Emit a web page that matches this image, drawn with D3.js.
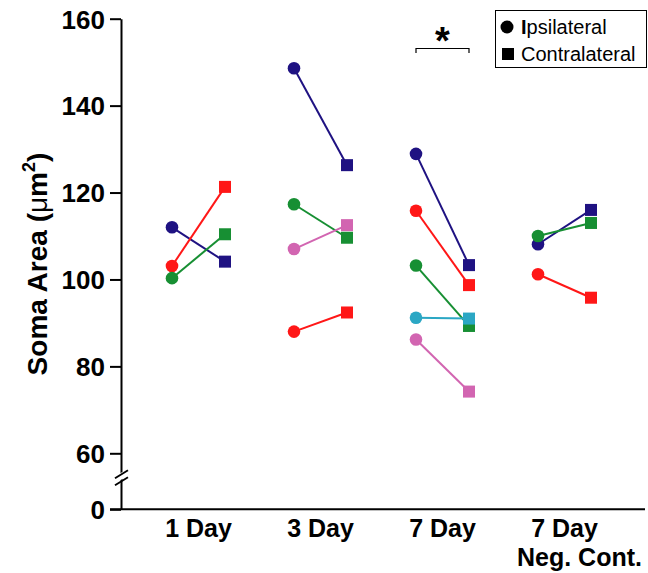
<!DOCTYPE html>
<html>
<head>
<meta charset="utf-8">
<script src="https://cdn.jsdelivr.net/npm/d3@7"></script>
<style>
  body { margin: 0; background: #fff; }
  text { font-family: Arial, "Liberation Sans", Helvetica, sans-serif; }
</style>
</head>
<body>
<div id="chart"></div>
<script>
// categories along x, each has an ipsilateral (circle) and contralateral (square) value
const categories = ["1 Day", "3 Day", "7 Day", "7 Day|Neg. Cont."];
const sides = ["Ipsilateral", "Contralateral"];
const yTicks = [0, 60, 80, 100, 120, 140, 160];

// one array per animal colour, [ipsi, contra] per category (null = no animal)
const navySeries  = [[112.0, 104.1], [148.6, 126.3], [128.9, 103.3], [108.1, 116.0]];
const redSeries   = [[103.1, 121.3], [88.0, 92.4],   [115.8, 98.7],  [101.2, 95.8]];
const greenSeries = [[100.3, 110.4], [117.3, 109.6], [103.2, 89.3],  [110.0, 113.0]];
const pinkSeries  = [null,           [107.0, 112.5], [86.2, 74.2],   null];
const cyanSeries  = [null,           null,           [91.2, 91.0],   null];

const seriesList = [
	{name: "navy",  values: navySeries,  color: "#1f1282"},
	{name: "red",   values: redSeries,   color: "#ff1717"},
	{name: "green", values: greenSeries, color: "#178f33"},
	{name: "pink",  values: pinkSeries,  color: "#d265b1"},
	{name: "cyan",  values: cyanSeries,  color: "#2ba7c4"}
];

let width = 648, height = 573;
let svg = d3.select("#chart").append("svg")
			.attr("width", width)
			.attr("height", height);

// broken y axis: 0 sits at the baseline, 60..160 linear above the break
let y = d3.scaleLinear().domain([0, 60, 160]).range([509.3, 453.3, 18.7]);
let x = d3.scalePoint().domain(categories).range([198.5, 564.5]);
let side = d3.scalePoint().domain(sides).range([-26.5, 26.5]);

let axisX0 = 121;

// y axis
let yAxis = svg.append("g")
			.attr("transform", "translate(" + axisX0 + ",0)")
			.call(d3.axisLeft(y).tickValues(yTicks).tickSize(11).tickSizeOuter(0).tickPadding(5));
yAxis.select(".domain").attr("stroke", "#000").attr("stroke-width", 2);
yAxis.selectAll(".tick line").attr("stroke", "#000").attr("stroke-width", 2);
yAxis.selectAll(".tick text")
	.attr("fill", "#000")
	.style("font-size", "26px")
	.style("font-weight", "bold")
	.attr("dy", "0.36em");

// axis break marks
let yBreak = (y(0) + y(60)) / 2 - 4;
svg.append("polygon")
	.attr("points", [[axisX0 - 3, yBreak + 4], [axisX0 + 3, yBreak + 1], [axisX0 + 3, yBreak - 6], [axisX0 - 3, yBreak - 3]].map(p => p.join(",")).join(" "))
	.attr("fill", "#fff");
svg.selectAll("line.brk").data([4, -3]).enter().append("line")
	.attr("class", "brk")
	.attr("x1", axisX0 - 6).attr("y1", d => yBreak + d + 4)
	.attr("x2", axisX0 + 7).attr("y2", d => yBreak + d - 4)
	.attr("stroke", "#000").attr("stroke-width", 1.8);

// x axis baseline (no ticks)
svg.append("line")
	.attr("x1", 110).attr("x2", 645)
	.attr("y1", y(0)).attr("y2", y(0))
	.attr("stroke", "#000").attr("stroke-width", 2);

// category labels
let catLabels = svg.append("g").selectAll("text").data(categories).enter().append("text")
	.attr("x", d => x(d))
	.attr("y", 537)
	.attr("text-anchor", "middle")
	.style("font-size", "25px")
	.style("font-weight", "bold");
catLabels.each(function(d) {
	let parts = d.split("|");
	let t = d3.select(this);
	parts.forEach((p, i) => {
		t.append("tspan")
			.attr("x", x(d) + (i > 0 ? 15 : 0))
			.attr("dy", i == 0 ? 0 : 29)
			.text(p);
	});
});

// y axis title
svg.append("text")
	.attr("transform", "translate(47," + 264 + ") rotate(-90)")
	.attr("text-anchor", "middle")
	.style("font-size", "28px")
	.style("font-weight", "bold")
	.html('Soma Area (<tspan style="font-weight:normal">μ</tspan>m<tspan dy="-12" style="font-size:18px">2</tspan><tspan dy="12">)</tspan>');

// pairs
let plot = svg.append("g");
seriesList.forEach(function(s) {
	let pts = [];
	s.values.forEach(function(v, i) {
		if (v) pts.push({cat: categories[i], ipsi: v[0], contra: v[1]});
	});
	let g = plot.append("g").attr("class", "series-" + s.name);
	g.selectAll("line").data(pts).enter().append("line")
		.attr("x1", d => x(d.cat) + side("Ipsilateral"))
		.attr("y1", d => y(d.ipsi))
		.attr("x2", d => x(d.cat) + side("Contralateral"))
		.attr("y2", d => y(d.contra))
		.attr("stroke", s.color)
		.attr("stroke-width", 2);
	g.selectAll("circle").data(pts).enter().append("circle")
		.attr("cx", d => x(d.cat) + side("Ipsilateral"))
		.attr("cy", d => y(d.ipsi))
		.attr("r", 6.3)
		.attr("fill", s.color);
	g.selectAll("rect").data(pts).enter().append("rect")
		.attr("x", d => x(d.cat) + side("Contralateral") - 6)
		.attr("y", d => y(d.contra) - 6)
		.attr("width", 12)
		.attr("height", 12)
		.attr("fill", s.color);
});

// significance bracket over 7 Day
let sigCat = "7 Day";
let bx1 = x(sigCat) + side("Ipsilateral"), bx2 = x(sigCat) + side("Contralateral");
svg.append("path")
	.attr("d", "M" + bx1 + ",53V48.5H" + bx2 + "V53")
	.attr("fill", "none")
	.attr("stroke", "#000")
	.attr("stroke-width", 1.2);
svg.append("text")
	.attr("x", (bx1 + bx2) / 2)
	.attr("y", 54)
	.attr("text-anchor", "middle")
	.style("font-size", "38px")
	.style("font-weight", "bold")
	.text("*");

// legend
let legend = svg.append("g");
legend.append("rect")
	.attr("x", 495.5).attr("y", 10.5)
	.attr("width", 151).attr("height", 57)
	.attr("fill", "#fff").attr("stroke", "#000").attr("stroke-width", 1);
legend.append("circle").attr("cx", 507).attr("cy", 27).attr("r", 6.5).attr("fill", "#000");
legend.append("rect").attr("x", 502).attr("y", 48).attr("width", 12).attr("height", 12).attr("fill", "#000");
legend.append("text")
	.attr("x", 521).attr("y", 34)
	.style("font-size", "20px")
	.html('<tspan style="font-weight:bold">I</tspan>psilateral');
legend.append("text")
	.attr("x", 521).attr("y", 60.5)
	.style("font-size", "20px")
	.text("Contralateral");
</script>
</body>
</html>
